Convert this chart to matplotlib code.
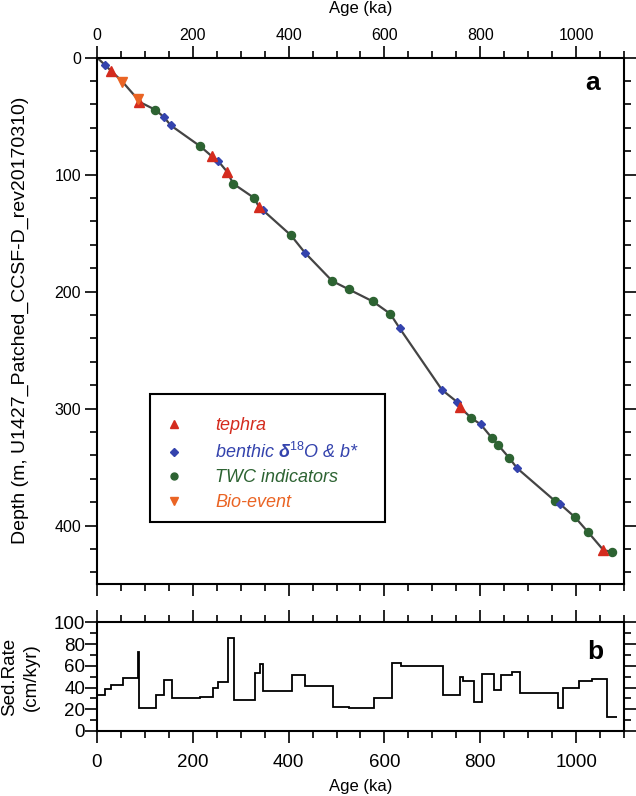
import matplotlib
matplotlib.use('Agg')
import matplotlib.pyplot as plt
from matplotlib.lines import Line2D
from matplotlib.ticker import MultipleLocator

plt.rcParams['font.family'] = ['Liberation Sans', 'DejaVu Sans']
plt.rcParams['mathtext.fontset'] = 'custom'
plt.rcParams['mathtext.rm'] = 'Liberation Sans'
plt.rcParams['mathtext.it'] = 'Liberation Sans:italic'
plt.rcParams['mathtext.bf'] = 'Liberation Sans:bold:italic'

# tie points (age ka, depth m)
tephra_age = [29, 87, 240, 272, 338, 758, 1057]
tephra_depth = [11.2, 37.6, 84.5, 97.8, 127.6, 299, 421]
benthic_age = [16, 140, 154, 252, 347, 434, 632, 720, 752, 801, 877, 966]
benthic_depth = [6.1, 51, 58, 88, 130.7, 166.8, 231.5, 284, 294.5, 313.6, 351, 381.4]
twc_age = [122, 216, 284, 328, 405, 491, 525, 576, 612, 781, 824, 837, 860,
           956, 998, 1025, 1075]
twc_depth = [44.7, 76, 107.7, 120, 152, 191, 198, 208.5, 219, 308, 325, 331,
             342, 379, 393, 405.6, 422.6]
bio_age = [53, 85]
bio_depth = [20.6, 35.6]

# sedimentation rate steps
rate_edges = [0, 17, 30, 54, 85, 88, 123, 139, 156, 216, 242, 252, 273, 286,
              330, 340, 347, 407, 435, 493, 527, 578, 615, 635, 722, 757, 764,
              786, 804, 829, 843, 866, 883, 963, 973, 1006, 1033, 1064, 1086]
rates = [33, 38.6, 42.6, 48.7, 72.5, 21, 33.3, 47.2, 30.3, 31.5, 39.7, 45,
         85.6, 29, 53.5, 62, 37, 52, 41.6, 21.7, 21, 30, 63, 60, 33, 49.5,
         45.6, 26.6, 52.6, 38, 51.7, 54, 35, 20.8, 39.4, 45.8, 48, 13]

c_red = '#d42b1e'
c_blue = '#3443ad'
c_green = '#2d6332'
c_orange = '#ea6424'

fig = plt.figure(figsize=(6.36, 7.96), dpi=100)
ax = fig.add_axes([0.1525, 0.2663, 0.8286, 0.6614])
axb = fig.add_axes([0.1525, 0.0817, 0.8286, 0.1363])

# age model line through all tie points
pts = sorted(zip(tephra_age + benthic_age + twc_age + bio_age,
                 tephra_depth + benthic_depth + twc_depth + bio_depth))
line_age = [0] + [p[0] for p in pts]
line_depth = [0] + [p[1] for p in pts]
ax.plot(line_age, line_depth, color='#444444', lw=1.6, zorder=2)

ax.plot(twc_age, twc_depth, 'o', color=c_green, ms=5.8, mec=c_green, zorder=3)
ax.plot(benthic_age, benthic_depth, 'D', color=c_blue, ms=4.5, mec=c_blue, zorder=3)
ax.plot(tephra_age, tephra_depth, '^', color=c_red, ms=7, mec=c_red, zorder=4)
ax.plot(bio_age, bio_depth, 'v', color=c_orange, ms=7, mec=c_orange, zorder=4)

ax.set_xlim(0, 1100)
ax.set_ylim(450, 0)
ax.xaxis.set_major_locator(MultipleLocator(200))
ax.xaxis.set_minor_locator(MultipleLocator(50))
ax.yaxis.set_major_locator(MultipleLocator(100))
ax.yaxis.set_minor_locator(MultipleLocator(20))
ax.tick_params(which='both', direction='out', top=True, right=True,
               labeltop=True, labelbottom=False, labelsize=11.5, width=1.2)
ax.tick_params(which='major', length=8.5, pad=3)
ax.tick_params(axis='x', which='major', pad=2)
ax.tick_params(which='minor', length=5)
ax.xaxis.set_label_position('top')
ax.set_xlabel('Age (ka)', fontsize=12, labelpad=11)
ax.set_ylabel('Depth (m, U1427_Patched_CCSF-D_rev20170310)', fontsize=14,
              labelpad=18)
for s in ax.spines.values():
    s.set_linewidth(1.5)
ax.text(0.94, 0.952, 'a', transform=ax.transAxes, fontsize=19,
        fontweight='bold', ha='center', va='center')

handles = [
    Line2D([], [], ls='none', marker='^', color=c_red, ms=6),
    Line2D([], [], ls='none', marker='D', color=c_blue, ms=3.8),
    Line2D([], [], ls='none', marker='o', color=c_green, ms=5),
    Line2D([], [], ls='none', marker='v', color=c_orange, ms=6),
]
labels = ['tephra', r'benthic $\mathbf{\delta}^{\mathrm{18}}$O & b*    ',
          'TWC indicators', 'Bio-event']
leg = ax.legend(handles, labels, loc='lower left', bbox_to_anchor=(0.1006, 0.118),
                borderaxespad=0, fontsize=13, handlelength=1.5,
                handletextpad=1.5, borderpad=0.6, labelspacing=0.42,
                fancybox=False, framealpha=1, edgecolor='black',
                title=' ', title_fontsize=4)
leg.get_frame().set_linewidth(1.5)
for t, c in zip(leg.get_texts(), [c_red, c_blue, c_green, c_orange]):
    t.set_color(c)
    t.set_fontstyle('italic')

# sedimentation rate panel
axb.stairs(rates, rate_edges, color='black', lw=1.3, baseline=None)
axb.set_xlim(0, 1100)
axb.set_ylim(0, 100)
axb.xaxis.set_major_locator(MultipleLocator(200))
axb.xaxis.set_minor_locator(MultipleLocator(50))
axb.yaxis.set_major_locator(MultipleLocator(20))
axb.yaxis.set_minor_locator(MultipleLocator(10))
axb.tick_params(which='both', direction='out', top=True, right=True,
                labelsize=13.5, width=1.2)
axb.tick_params(which='major', length=8.5)
axb.tick_params(which='minor', length=5)
axb.tick_params(axis='y', which='major', pad=0)
axb.tick_params(axis='x', which='major', pad=8)
axb.set_xlabel('Age (ka)', fontsize=12, labelpad=6)
axb.set_ylabel('Sed.Rate\n(cm/kyr)', fontsize=13.5, labelpad=10, linespacing=1.35)
for s in axb.spines.values():
    s.set_linewidth(1.5)
axb.text(0.945, 0.73, 'b', transform=axb.transAxes, fontsize=19,
         fontweight='bold', ha='center', va='center')

fig.savefig('out.png', dpi=100)
